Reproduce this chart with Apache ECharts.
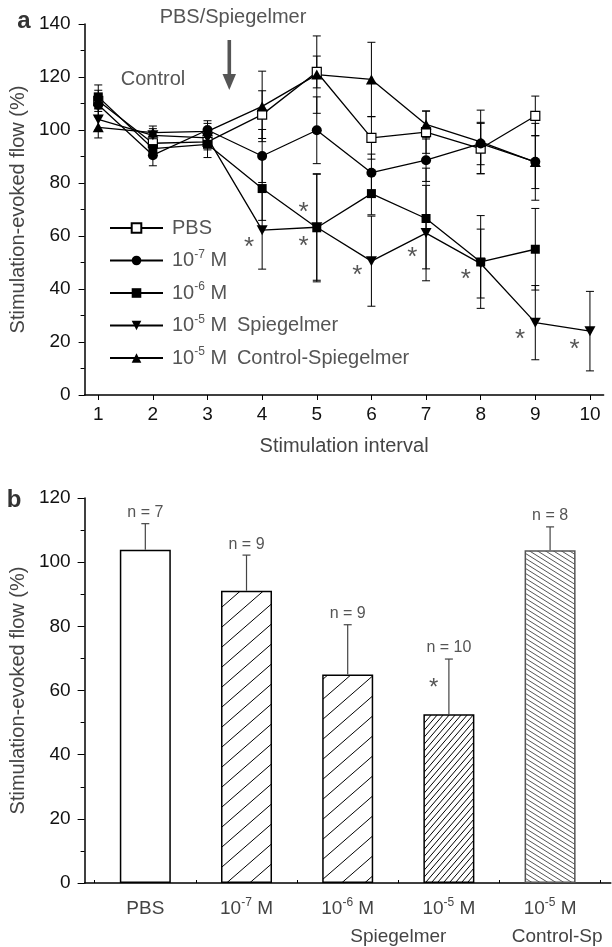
<!DOCTYPE html>
<html>
<head>
<meta charset="utf-8">
<script src="https://cdn.jsdelivr.net/npm/echarts@6/dist/echarts.min.js"></script>
<style>
html, body { margin: 0; padding: 0; background: #fff; }
#chart { width: 612px; height: 947px; }
</style>
</head>
<body>
<div id="chart"></div>
<script>
// ---- panel a : flow per stimulation interval (mean, sem) ----
var intervals = [1, 2, 3, 4, 5, 6, 7, 8, 9, 10];
var pbsMean  = [111, 95, 95.5, 105.8, 121.9, 97.0, 99.2, 93.0, 105.3];
var pbsSem   = [4, 3, 3, 9, 6, 8, 8, 9.5, 7.5];
var m7Mean   = [109.5, 90.5, 100, 90.2, 99.9, 83.9, 88.6, 94.9, 88.0];
var m7Sem    = [4, 4, 3.5, 10, 12.6, 7, 8, 8, 14.5];
var m6Mean   = [112.5, 93, 94.6, 77.9, 63.1, 76.0, 66.6, 50.2, 55.0];
var m6Sem    = [4.5, 3, 5, 12, 20.4, 8, 19, 17.5, 15.4];
var m5Mean   = [104, 98, 97, 62.2, 63.3, 50.5, 61.1, 49.6, 27.3, 24.1];
var m5Sem    = [4, 2.5, 3, 14.7, 20, 17, 18, 13, 14, 15];
var ctrlMean = [101, 99, 99.5, 108.9, 120.9, 119.1, 102.1, 95.5, 87.9];
var ctrlSem  = [4, 2.5, 3, 13.3, 14.6, 14, 5, 12, 10];
// asterisks (interval, value)
var starsA = [[3.76, 58.0], [4.76, 71.2], [4.76, 58.4], [5.74, 47.5], [6.75, 54.3], [7.73, 46.0], [8.72, 23.4], [9.72, 19.6]];
var seriesNames = ['PBS', '10-7 M', '10-6 M', '10-5 M Spiegelmer', '10-5 M Control-Spiegelmer'];
var legendLabels = [
  '{t|PBS}',
  '{t|10}{sup|-7}{t| M}',
  '{t|10}{sup|-6}{t| M}',
  '{t|10}{sup|-5}{w| M}{t|Spiegelmer}',
  '{t|10}{sup|-5}{w| M}{t|Control-Spiegelmer}'
];
var xTicksA = [1, 2, 3, 4, 5, 6, 7, 8, 9, 10];

// ---- panel b : mean flow per group ----
var barX = [1, 2, 3, 4, 5];
var barLabels = ['PBS', '10-7 M', '10-6 M', '10-5 M', '10-5 M'];
var barSubPos = [3.5, 5.07];
var barSubLabels = ['Spiegelmer', 'Control-Sp'];
var barMean = [103.9, 91.1, 65.0, 52.6, 103.7];
var barSem  = [8.1, 11.1, 15.5, 17.2, 7.3];
var barN    = ['n = 7', 'n = 9', 'n = 9', 'n = 10', 'n = 8'];
var starsB  = [[3.85, 62.4]];

var FONT = '"Liberation Sans", Arial, Helvetica, sans-serif';

// hatch tile: one line per tile, corner to corner
function hatch(w, h, dir, color, lw) {
  var c = document.createElement('canvas');
  c.width = w; c.height = h;
  var g = c.getContext('2d');
  g.fillStyle = '#fff';
  g.fillRect(0, 0, w, h);
  g.strokeStyle = color;
  g.lineWidth = lw;
  for (var k = -1; k <= 1; k++) {
    g.beginPath();
    if (dir === '/') {
      g.moveTo(-w, 2 * h + k * h); g.lineTo(2 * w, -h + k * h);
    } else {
      g.moveTo(-w, -h + k * h); g.lineTo(2 * w, 2 * h + k * h);
    }
    g.stroke();
  }
  return { image: c, repeat: 'repeat' };
}

function supFmt(s) {
  var m = /^10(-\d+) M$/.exec(s);
  if (!m) return '{t|' + s + '}';
  return '{t|10}{sup|' + m[1] + '}{t| M}';
}

function errSeries(means, sems) {
  return {
    type: 'custom', xAxisIndex: 0, yAxisIndex: 0, silent: true, z: 1,
    data: means.map(function (m, i) { return [intervals[i], m, sems[i]]; }),
    renderItem: function (params, api) {
      var x = api.value(0), m = api.value(1), s = api.value(2);
      var hi = api.coord([x, m + s]), lo = api.coord([x, m - s]);
      var c = 4, st = { stroke: '#000', lineWidth: 1 };
      return { type: 'group', children: [
        { type: 'line', shape: { x1: hi[0], y1: hi[1], x2: lo[0], y2: lo[1] }, style: st },
        { type: 'line', shape: { x1: hi[0] - c, y1: hi[1], x2: hi[0] + c, y2: hi[1] }, style: st },
        { type: 'line', shape: { x1: lo[0] - c, y1: lo[1], x2: lo[0] + c, y2: lo[1] }, style: st }
      ] };
    }
  };
}

function lineSeries(name, means, symbol, size, itemStyle) {
  return {
    name: name, type: 'line', xAxisIndex: 0, yAxisIndex: 0, z: 3,
    data: means.map(function (m, i) { return [intervals[i], m]; }),
    symbol: symbol, symbolSize: size, showAllSymbol: true,
    lineStyle: { color: '#000', width: 1.3 },
    itemStyle: itemStyle
  };
}

function starSeries(pts, xi, yi, fs) {
  return {
    type: 'custom', xAxisIndex: xi, yAxisIndex: yi, silent: true, z: 4,
    data: pts,
    renderItem: function (params, api) {
      var p = api.coord([api.value(0), api.value(1)]);
      return { type: 'text', x: p[0], y: p[1] + fs * 0.25,
        style: { text: '*', fontSize: fs, fontFamily: FONT, fill: '#555', align: 'center', verticalAlign: 'middle' } };
    }
  };
}

var supRich = {
  t: { fontSize: 20, lineHeight: 24, fontFamily: FONT, color: '#555' },
  sup: { fontSize: 12, lineHeight: 12, verticalAlign: 'top', fontFamily: FONT, color: '#555' },
  w: { fontSize: 20, lineHeight: 24, width: 32, fontFamily: FONT, color: '#555' }
};

var option = {
  animation: false,
  backgroundColor: '#fff',
  textStyle: { fontFamily: FONT },
  grid: [
    { left: 83, top: 24, height: 371, right: 8.4 },
    { left: 83, top: 498, height: 385, right: 1.2 }
  ],
  legend: {
    data: seriesNames, orient: 'vertical', left: 104, top: 213,
    itemWidth: 53, itemHeight: 12, itemGap: 10.5,
    formatter: function (name) { return legendLabels[seriesNames.indexOf(name)]; },
    textStyle: { fontFamily: FONT, fontSize: 20, color: '#555', padding: [0, 0, 0, 4], rich: supRich }
  },
  xAxis: [
    {
      gridIndex: 0, type: 'value', min: 0.75, max: 10.25,
      name: 'Stimulation interval', nameLocation: 'middle', nameGap: 41,
      nameTextStyle: { fontSize: 20, color: '#444', fontFamily: FONT },
      axisLine: { lineStyle: { color: '#000', width: 1.5 } },
      axisTick: { customValues: xTicksA, length: 5, lineStyle: { color: '#000' } },
      axisLabel: { customValues: xTicksA, fontSize: 19, color: '#111', margin: 10 },
      splitLine: { show: false }
    },
    {
      gridIndex: 1, type: 'value', min: 0.4, max: 5.6, position: 'bottom',
      axisLine: { lineStyle: { color: '#000', width: 1.5 } },
      axisTick: { customValues: [0.5, 1, 1.5, 2, 2.5, 3, 3.5, 4, 4.5, 5, 5.5], inside: true, length: 3, lineStyle: { color: '#000' } },
      axisLabel: {
        customValues: barX, margin: 14,
        formatter: function (v) { return supFmt(barLabels[barX.indexOf(v)]); },
        rich: {
          t: { fontSize: 19, lineHeight: 24, fontFamily: FONT, color: '#444' },
          sup: { fontSize: 12, lineHeight: 12, verticalAlign: 'top', fontFamily: FONT, color: '#444' }
        }
      },
      splitLine: { show: false }
    },
    {
      gridIndex: 1, type: 'value', min: 0.4, max: 5.6, position: 'bottom',
      axisLine: { show: false }, axisTick: { show: false },
      axisLabel: {
        customValues: barSubPos, margin: 44, fontSize: 19, color: '#444',
        formatter: function (v) { return barSubLabels[barSubPos.indexOf(v)]; }
      },
      splitLine: { show: false }
    }
  ],
  yAxis: [
    {
      gridIndex: 0, type: 'value', min: 0, max: 140, interval: 20,
      name: 'Stimulation-evoked flow (%)', nameLocation: 'middle', nameGap: 50,
      nameTextStyle: { fontSize: 20, color: '#444', fontFamily: FONT },
      axisLine: { show: true, lineStyle: { color: '#000', width: 1.5 } },
      axisTick: { show: true, length: 6, lineStyle: { color: '#000' } },
      minorTick: { show: true, splitNumber: 2, length: 4, lineStyle: { color: '#000' } },
      axisLabel: { fontSize: 19, color: '#111', margin: 14 },
      splitLine: { show: false }
    },
    {
      gridIndex: 1, type: 'value', min: 0, max: 120, interval: 20,
      name: 'Stimulation-evoked flow (%)', nameLocation: 'middle', nameGap: 50,
      nameTextStyle: { fontSize: 20, color: '#444', fontFamily: FONT },
      axisLine: { show: true, lineStyle: { color: '#000', width: 1.5 } },
      axisTick: { show: true, length: 7, lineStyle: { color: '#000' } },
      minorTick: { show: true, splitNumber: 2, length: 4, lineStyle: { color: '#000' } },
      axisLabel: { fontSize: 19, color: '#111', margin: 14 },
      splitLine: { show: false }
    }
  ],
  graphic: [
    { type: 'text', x: 24, y: 21, style: { text: 'a', fontSize: 24, fontWeight: 'bold', fontFamily: FONT, fill: '#333', align: 'center', verticalAlign: 'middle' } },
    { type: 'text', x: 14, y: 500, style: { text: 'b', fontSize: 24, fontWeight: 'bold', fontFamily: FONT, fill: '#333', align: 'center', verticalAlign: 'middle' } },
    { type: 'text', x: 233, y: 17, style: { text: 'PBS/Spiegelmer', fontSize: 20, fontFamily: FONT, fill: '#555', align: 'center', verticalAlign: 'middle' } },
    { type: 'text', x: 153, y: 79, style: { text: 'Control', fontSize: 20, fontFamily: FONT, fill: '#555', align: 'center', verticalAlign: 'middle' } },
    { type: 'rect', shape: { x: 227.5, y: 40, width: 3.6, height: 36 }, style: { fill: '#555' } },
    { type: 'polygon', shape: { points: [[222.5, 74], [236, 74], [229.3, 90]] }, style: { fill: '#555' } }
  ],
  series: [
    errSeries(pbsMean, pbsSem),
    errSeries(m7Mean, m7Sem),
    errSeries(m6Mean, m6Sem),
    errSeries(m5Mean, m5Sem),
    errSeries(ctrlMean, ctrlSem),
    lineSeries(seriesNames[0], pbsMean, 'rect', 9, { color: '#fff', borderColor: '#000', borderWidth: 1.2 }),
    lineSeries(seriesNames[1], m7Mean, 'circle', 10, { color: '#000' }),
    lineSeries(seriesNames[2], m6Mean, 'rect', 9, { color: '#000' }),
    lineSeries(seriesNames[3], m5Mean, 'path://M0,0 L12,0 L6,11 Z', [11, 10], { color: '#000' }),
    lineSeries(seriesNames[4], ctrlMean, 'triangle', [11, 10], { color: '#000' }),
    starSeries(starsA, 0, 0, 26),
    {
      type: 'bar', xAxisIndex: 1, yAxisIndex: 1, barWidth: 51, z: 2,
      data: barMean.map(function (m, i) {
        var fills = ['#fff', hatch(23, 20, '/', '#000', 1), hatch(23, 20, '/', '#000', 1), hatch(6, 7, '/', '#000', 1), hatch(8, 5, '\\', '#555', 1)];
        return {
          value: [barX[i], m],
          itemStyle: { color: fills[i], borderColor: i === 4 ? '#555' : '#000', borderWidth: 1.5 }
        };
      })
    },
    {
      type: 'custom', xAxisIndex: 1, yAxisIndex: 1, silent: true, z: 3,
      data: barMean.map(function (m, i) { return [barX[i], m, barSem[i], i]; }),
      renderItem: function (params, api) {
        var x = api.value(0), m = api.value(1), s = api.value(2);
        var top = api.coord([x, m]), cap = api.coord([x, m + s]);
        var st = { stroke: '#444', lineWidth: 1.2 };
        return { type: 'group', children: [
          { type: 'line', shape: { x1: top[0], y1: top[1], x2: cap[0], y2: cap[1] }, style: st },
          { type: 'line', shape: { x1: cap[0] - 4, y1: cap[1], x2: cap[0] + 4, y2: cap[1] }, style: st },
          { type: 'text', x: cap[0], y: cap[1] - 11,
            style: { text: barN[api.value(3)], fontSize: 16, fontFamily: FONT, fill: '#555', align: 'center', verticalAlign: 'middle' } }
        ] };
      }
    },
    starSeries(starsB, 1, 1, 24)
  ]
};

var chart = echarts.init(document.getElementById('chart'));
chart.setOption(option);
</script>
</body>
</html>
